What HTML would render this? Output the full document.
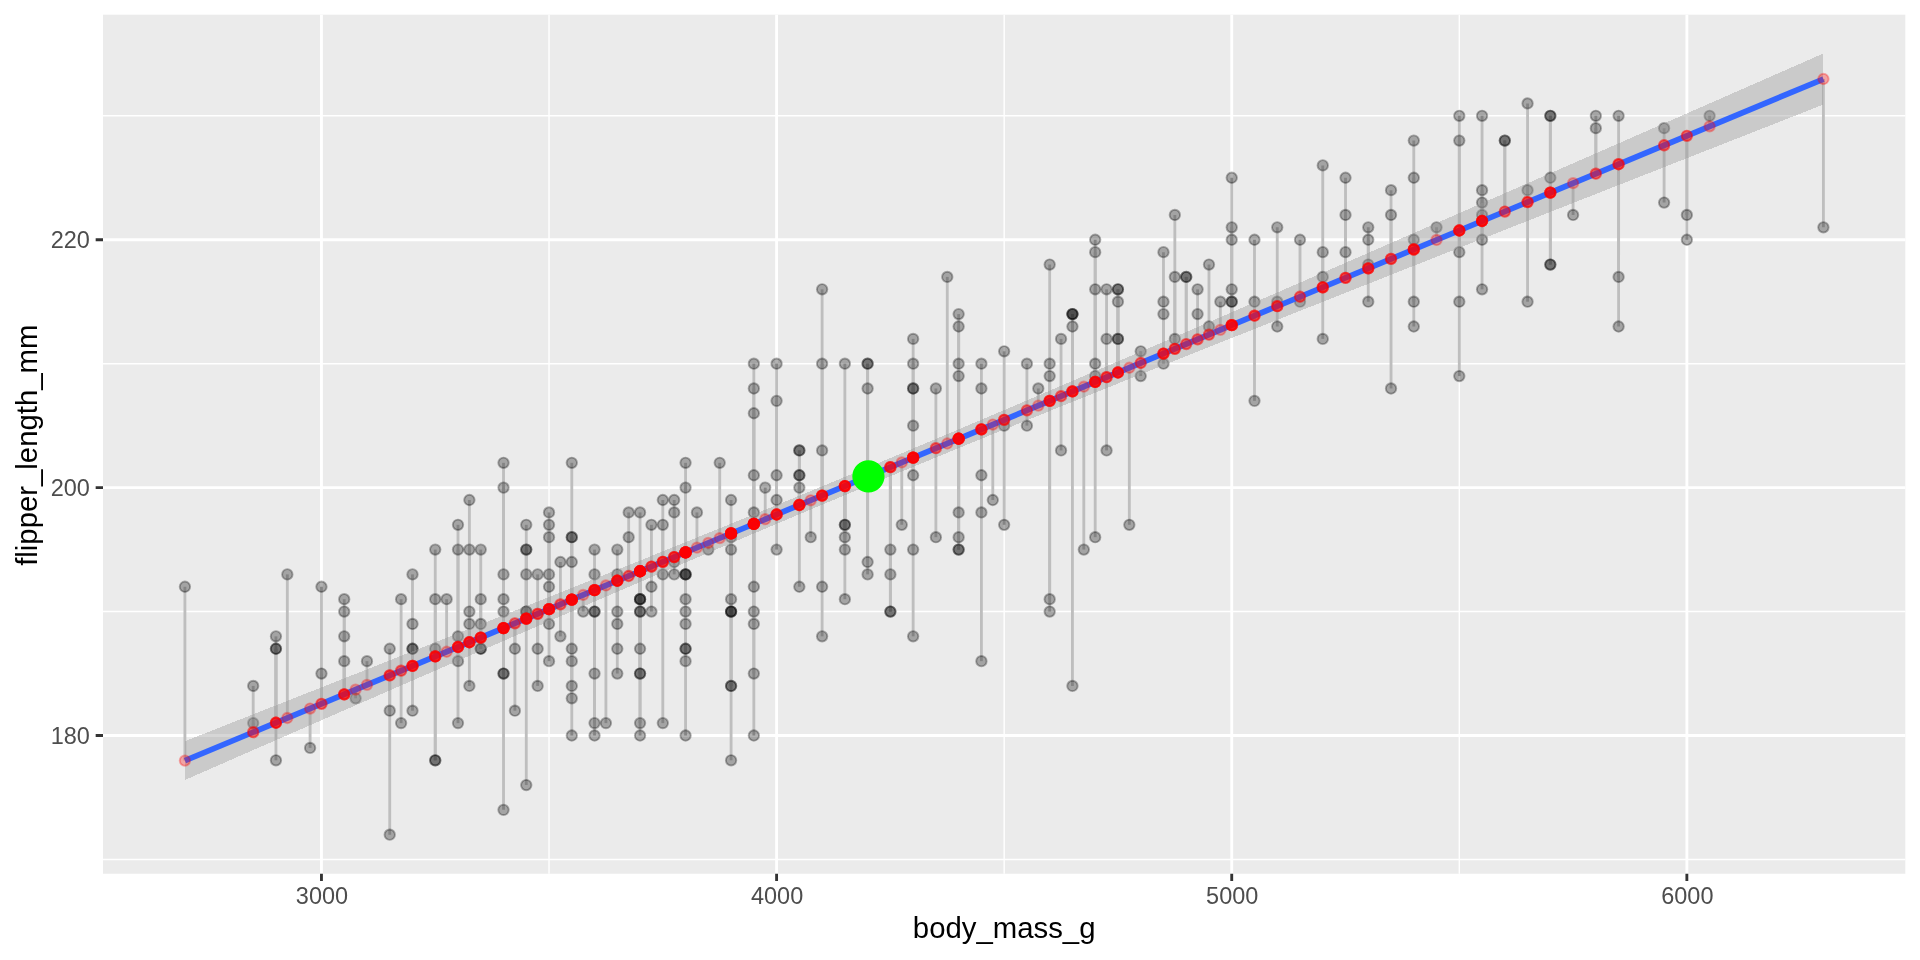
<!DOCTYPE html>
<html><head><meta charset="utf-8"><title>plot</title>
<style>html,body{margin:0;padding:0;background:#fff}svg{display:block;will-change:transform}text{font-family:"Liberation Sans",sans-serif}</style></head>
<body>
<svg width="1920" height="960" viewBox="0 0 1920 960">
<rect width="1920" height="960" fill="#fff"/>
<rect x="103.0" y="14.67" width="1802.33" height="859.08" fill="#EBEBEB"/>
<defs><clipPath id="cp"><rect x="103.0" y="14.67" width="1802.33" height="859.08"/></clipPath></defs>
<path d="M103.0 859.44H1905.33M103.0 611.56H1905.33M103.0 363.68H1905.33M103.0 115.80H1905.33M549.03 14.67V873.75M1004.16 14.67V873.75M1459.30 14.67V873.75" stroke="#fff" stroke-width="1.42" fill="none"/>
<path d="M103.0 735.50H1905.33M103.0 487.62H1905.33M103.0 239.74H1905.33M321.46 14.67V873.75M776.60 14.67V873.75M1231.73 14.67V873.75M1686.87 14.67V873.75" stroke="#fff" stroke-width="2.85" fill="none"/>
<g clip-path="url(#cp)">
<g stroke="#BEBEBE" stroke-width="2.85" fill="none">
<path d="M184.92 586.77V760.60"/><path d="M253.19 685.92V732.20"/><path d="M253.19 723.11V732.20"/><path d="M275.95 636.35V722.74"/><path d="M275.95 648.74V722.74"/><path d="M275.95 648.74V722.74"/><path d="M275.95 760.29V722.74"/><path d="M287.33 574.38V718.00"/><path d="M310.09 747.89V708.54"/><path d="M321.46 586.77V703.80"/><path d="M321.46 673.53V703.80"/><path d="M344.22 599.17V694.34"/><path d="M344.22 611.56V694.34"/><path d="M344.22 636.35V694.34"/><path d="M344.22 661.14V694.34"/><path d="M355.60 698.32V689.61"/><path d="M366.98 661.14V684.87"/><path d="M389.73 648.74V675.41"/><path d="M389.73 710.71V675.41"/><path d="M389.73 834.65V675.41"/><path d="M401.11 599.17V670.67"/><path d="M401.11 723.11V670.67"/><path d="M412.49 574.38V665.94"/><path d="M412.49 623.95V665.94"/><path d="M412.49 648.74V665.94"/><path d="M412.49 648.74V665.94"/><path d="M412.49 710.71V665.94"/><path d="M435.25 549.59V656.47"/><path d="M435.25 599.17V656.47"/><path d="M435.25 648.74V656.47"/><path d="M435.25 760.29V656.47"/><path d="M435.25 760.29V656.47"/><path d="M446.63 599.17V651.74"/><path d="M458.00 524.80V647.01"/><path d="M458.00 549.59V647.01"/><path d="M458.00 636.35V647.01"/><path d="M458.00 661.14V647.01"/><path d="M458.00 723.11V647.01"/><path d="M469.38 500.01V642.27"/><path d="M469.38 549.59V642.27"/><path d="M469.38 611.56V642.27"/><path d="M469.38 623.95V642.27"/><path d="M469.38 685.92V642.27"/><path d="M480.76 549.59V637.54"/><path d="M480.76 599.17V637.54"/><path d="M480.76 623.95V637.54"/><path d="M480.76 648.74V637.54"/><path d="M480.76 648.74V637.54"/><path d="M503.52 462.83V628.07"/><path d="M503.52 487.62V628.07"/><path d="M503.52 574.38V628.07"/><path d="M503.52 599.17V628.07"/><path d="M503.52 611.56V628.07"/><path d="M503.52 673.53V628.07"/><path d="M503.52 673.53V628.07"/><path d="M503.52 809.86V628.07"/><path d="M514.90 648.74V623.34"/><path d="M514.90 710.71V623.34"/><path d="M526.27 524.80V618.61"/><path d="M526.27 549.59V618.61"/><path d="M526.27 549.59V618.61"/><path d="M526.27 574.38V618.61"/><path d="M526.27 611.56V618.61"/><path d="M526.27 611.56V618.61"/><path d="M526.27 785.08V618.61"/><path d="M537.65 574.38V613.87"/><path d="M537.65 648.74V613.87"/><path d="M537.65 685.92V613.87"/><path d="M549.03 512.41V609.14"/><path d="M549.03 524.80V609.14"/><path d="M549.03 537.20V609.14"/><path d="M549.03 574.38V609.14"/><path d="M549.03 586.77V609.14"/><path d="M549.03 623.95V609.14"/><path d="M549.03 661.14V609.14"/><path d="M560.41 561.98V604.41"/><path d="M560.41 636.35V604.41"/><path d="M571.79 462.83V599.67"/><path d="M571.79 537.20V599.67"/><path d="M571.79 537.20V599.67"/><path d="M571.79 561.98V599.67"/><path d="M571.79 648.74V599.67"/><path d="M571.79 661.14V599.67"/><path d="M571.79 685.92V599.67"/><path d="M571.79 698.32V599.67"/><path d="M571.79 735.50V599.67"/><path d="M583.17 611.56V594.94"/><path d="M594.54 549.59V590.21"/><path d="M594.54 574.38V590.21"/><path d="M594.54 611.56V590.21"/><path d="M594.54 611.56V590.21"/><path d="M594.54 673.53V590.21"/><path d="M594.54 723.11V590.21"/><path d="M594.54 735.50V590.21"/><path d="M605.92 723.11V585.47"/><path d="M617.30 549.59V580.74"/><path d="M617.30 574.38V580.74"/><path d="M617.30 611.56V580.74"/><path d="M617.30 623.95V580.74"/><path d="M617.30 648.74V580.74"/><path d="M617.30 673.53V580.74"/><path d="M628.68 512.41V576.01"/><path d="M628.68 537.20V576.01"/><path d="M640.06 512.41V571.27"/><path d="M640.06 599.17V571.27"/><path d="M640.06 599.17V571.27"/><path d="M640.06 599.17V571.27"/><path d="M640.06 611.56V571.27"/><path d="M640.06 611.56V571.27"/><path d="M640.06 648.74V571.27"/><path d="M640.06 673.53V571.27"/><path d="M640.06 673.53V571.27"/><path d="M640.06 723.11V571.27"/><path d="M640.06 735.50V571.27"/><path d="M651.44 524.80V566.54"/><path d="M651.44 586.77V566.54"/><path d="M651.44 611.56V566.54"/><path d="M662.81 500.01V561.81"/><path d="M662.81 524.80V561.81"/><path d="M662.81 574.38V561.81"/><path d="M662.81 723.11V561.81"/><path d="M674.19 500.01V557.07"/><path d="M674.19 512.41V557.07"/><path d="M674.19 561.98V557.07"/><path d="M674.19 574.38V557.07"/><path d="M685.57 462.83V552.34"/><path d="M685.57 487.62V552.34"/><path d="M685.57 574.38V552.34"/><path d="M685.57 574.38V552.34"/><path d="M685.57 574.38V552.34"/><path d="M685.57 599.17V552.34"/><path d="M685.57 611.56V552.34"/><path d="M685.57 623.95V552.34"/><path d="M685.57 648.74V552.34"/><path d="M685.57 648.74V552.34"/><path d="M685.57 661.14V552.34"/><path d="M685.57 735.50V552.34"/><path d="M696.95 512.41V547.61"/><path d="M708.33 549.59V542.87"/><path d="M719.71 462.83V538.14"/><path d="M731.08 500.01V533.41"/><path d="M731.08 537.20V533.41"/><path d="M731.08 549.59V533.41"/><path d="M731.08 599.17V533.41"/><path d="M731.08 611.56V533.41"/><path d="M731.08 611.56V533.41"/><path d="M731.08 611.56V533.41"/><path d="M731.08 685.92V533.41"/><path d="M731.08 685.92V533.41"/><path d="M731.08 760.29V533.41"/><path d="M753.84 363.68V523.94"/><path d="M753.84 388.47V523.94"/><path d="M753.84 413.26V523.94"/><path d="M753.84 475.23V523.94"/><path d="M753.84 512.41V523.94"/><path d="M753.84 586.77V523.94"/><path d="M753.84 611.56V523.94"/><path d="M753.84 623.95V523.94"/><path d="M753.84 673.53V523.94"/><path d="M753.84 735.50V523.94"/><path d="M765.22 487.62V519.21"/><path d="M776.60 363.68V514.48"/><path d="M776.60 400.86V514.48"/><path d="M776.60 475.23V514.48"/><path d="M776.60 500.01V514.48"/><path d="M776.60 549.59V514.48"/><path d="M799.35 450.44V505.01"/><path d="M799.35 450.44V505.01"/><path d="M799.35 475.23V505.01"/><path d="M799.35 475.23V505.01"/><path d="M799.35 487.62V505.01"/><path d="M799.35 586.77V505.01"/><path d="M810.73 537.20V500.28"/><path d="M822.11 289.32V495.54"/><path d="M822.11 363.68V495.54"/><path d="M822.11 450.44V495.54"/><path d="M822.11 586.77V495.54"/><path d="M822.11 636.35V495.54"/><path d="M844.87 363.68V486.08"/><path d="M844.87 524.80V486.08"/><path d="M844.87 524.80V486.08"/><path d="M844.87 537.20V486.08"/><path d="M844.87 549.59V486.08"/><path d="M844.87 599.17V486.08"/><path d="M867.62 363.68V476.61"/><path d="M867.62 363.68V476.61"/><path d="M867.62 388.47V476.61"/><path d="M867.62 561.98V476.61"/><path d="M867.62 574.38V476.61"/><path d="M890.38 549.59V467.14"/><path d="M890.38 574.38V467.14"/><path d="M890.38 611.56V467.14"/><path d="M890.38 611.56V467.14"/><path d="M901.76 524.80V462.41"/><path d="M913.14 338.89V457.68"/><path d="M913.14 363.68V457.68"/><path d="M913.14 388.47V457.68"/><path d="M913.14 388.47V457.68"/><path d="M913.14 425.65V457.68"/><path d="M913.14 475.23V457.68"/><path d="M913.14 549.59V457.68"/><path d="M913.14 636.35V457.68"/><path d="M935.89 388.47V448.21"/><path d="M935.89 537.20V448.21"/><path d="M947.27 276.92V443.48"/><path d="M958.65 314.10V438.74"/><path d="M958.65 326.50V438.74"/><path d="M958.65 363.68V438.74"/><path d="M958.65 376.07V438.74"/><path d="M958.65 512.41V438.74"/><path d="M958.65 537.20V438.74"/><path d="M958.65 549.59V438.74"/><path d="M958.65 549.59V438.74"/><path d="M981.41 363.68V429.28"/><path d="M981.41 388.47V429.28"/><path d="M981.41 475.23V429.28"/><path d="M981.41 512.41V429.28"/><path d="M981.41 661.14V429.28"/><path d="M992.79 500.01V424.54"/><path d="M1004.16 351.29V419.81"/><path d="M1004.16 425.65V419.81"/><path d="M1004.16 524.80V419.81"/><path d="M1026.92 363.68V410.34"/><path d="M1026.92 425.65V410.34"/><path d="M1038.30 388.47V405.61"/><path d="M1049.68 264.53V400.88"/><path d="M1049.68 363.68V400.88"/><path d="M1049.68 376.07V400.88"/><path d="M1049.68 599.17V400.88"/><path d="M1049.68 611.56V400.88"/><path d="M1061.06 338.89V396.14"/><path d="M1061.06 450.44V396.14"/><path d="M1072.44 314.10V391.41"/><path d="M1072.44 314.10V391.41"/><path d="M1072.44 314.10V391.41"/><path d="M1072.44 326.50V391.41"/><path d="M1072.44 685.92V391.41"/><path d="M1083.81 549.59V386.68"/><path d="M1095.19 239.74V381.94"/><path d="M1095.19 252.13V381.94"/><path d="M1095.19 289.32V381.94"/><path d="M1095.19 363.68V381.94"/><path d="M1095.19 376.07V381.94"/><path d="M1095.19 537.20V381.94"/><path d="M1106.57 289.32V377.21"/><path d="M1106.57 338.89V377.21"/><path d="M1106.57 450.44V377.21"/><path d="M1117.95 289.32V372.48"/><path d="M1117.95 289.32V372.48"/><path d="M1117.95 301.71V372.48"/><path d="M1117.95 338.89V372.48"/><path d="M1117.95 338.89V372.48"/><path d="M1129.33 524.80V367.74"/><path d="M1140.71 351.29V363.01"/><path d="M1140.71 376.07V363.01"/><path d="M1163.46 252.13V353.54"/><path d="M1163.46 301.71V353.54"/><path d="M1163.46 314.10V353.54"/><path d="M1163.46 363.68V353.54"/><path d="M1174.84 214.95V348.81"/><path d="M1174.84 276.92V348.81"/><path d="M1174.84 338.89V348.81"/><path d="M1186.22 276.92V344.08"/><path d="M1186.22 276.92V344.08"/><path d="M1197.60 289.32V339.35"/><path d="M1197.60 314.10V339.35"/><path d="M1208.98 264.53V334.61"/><path d="M1208.98 326.50V334.61"/><path d="M1220.35 301.71V329.88"/><path d="M1231.73 177.77V325.15"/><path d="M1231.73 227.35V325.15"/><path d="M1231.73 239.74V325.15"/><path d="M1231.73 289.32V325.15"/><path d="M1231.73 301.71V325.15"/><path d="M1231.73 301.71V325.15"/><path d="M1254.49 239.74V315.68"/><path d="M1254.49 301.71V315.68"/><path d="M1254.49 400.86V315.68"/><path d="M1277.25 227.35V306.21"/><path d="M1277.25 301.71V306.21"/><path d="M1277.25 326.50V306.21"/><path d="M1300.00 239.74V296.75"/><path d="M1300.00 301.71V296.75"/><path d="M1322.76 165.38V287.28"/><path d="M1322.76 252.13V287.28"/><path d="M1322.76 276.92V287.28"/><path d="M1322.76 338.89V287.28"/><path d="M1345.52 177.77V277.81"/><path d="M1345.52 214.95V277.81"/><path d="M1345.52 252.13V277.81"/><path d="M1368.27 227.35V268.35"/><path d="M1368.27 239.74V268.35"/><path d="M1368.27 264.53V268.35"/><path d="M1368.27 301.71V268.35"/><path d="M1391.03 190.16V258.88"/><path d="M1391.03 214.95V258.88"/><path d="M1391.03 388.47V258.88"/><path d="M1413.79 140.59V249.41"/><path d="M1413.79 177.77V249.41"/><path d="M1413.79 239.74V249.41"/><path d="M1413.79 301.71V249.41"/><path d="M1413.79 326.50V249.41"/><path d="M1436.54 227.35V239.95"/><path d="M1459.30 115.80V230.48"/><path d="M1459.30 140.59V230.48"/><path d="M1459.30 252.13V230.48"/><path d="M1459.30 301.71V230.48"/><path d="M1459.30 376.07V230.48"/><path d="M1482.06 115.80V221.01"/><path d="M1482.06 190.16V221.01"/><path d="M1482.06 202.56V221.01"/><path d="M1482.06 214.95V221.01"/><path d="M1482.06 239.74V221.01"/><path d="M1482.06 289.32V221.01"/><path d="M1504.81 140.59V211.55"/><path d="M1504.81 140.59V211.55"/><path d="M1527.57 103.41V202.08"/><path d="M1527.57 190.16V202.08"/><path d="M1527.57 301.71V202.08"/><path d="M1550.33 115.80V192.61"/><path d="M1550.33 115.80V192.61"/><path d="M1550.33 177.77V192.61"/><path d="M1550.33 264.53V192.61"/><path d="M1550.33 264.53V192.61"/><path d="M1573.08 214.95V183.15"/><path d="M1595.84 115.80V173.68"/><path d="M1595.84 128.19V173.68"/><path d="M1618.60 115.80V164.22"/><path d="M1618.60 276.92V164.22"/><path d="M1618.60 326.50V164.22"/><path d="M1664.11 128.19V145.28"/><path d="M1664.11 202.56V145.28"/><path d="M1686.87 214.95V135.82"/><path d="M1686.87 239.74V135.82"/><path d="M1709.62 115.80V126.35"/><path d="M1823.41 227.35V79.02"/>
</g>
<g fill="#000" fill-opacity="0.3" stroke="#000" stroke-opacity="0.3" stroke-width="1.89">
<circle cx="184.92" cy="586.77" r="5.21"/><circle cx="253.19" cy="685.92" r="5.21"/><circle cx="253.19" cy="723.11" r="5.21"/><circle cx="275.95" cy="636.35" r="5.21"/><circle cx="275.95" cy="648.74" r="5.21"/><circle cx="275.95" cy="648.74" r="5.21"/><circle cx="275.95" cy="760.29" r="5.21"/><circle cx="287.33" cy="574.38" r="5.21"/><circle cx="310.09" cy="747.89" r="5.21"/><circle cx="321.46" cy="586.77" r="5.21"/><circle cx="321.46" cy="673.53" r="5.21"/><circle cx="344.22" cy="599.17" r="5.21"/><circle cx="344.22" cy="611.56" r="5.21"/><circle cx="344.22" cy="636.35" r="5.21"/><circle cx="344.22" cy="661.14" r="5.21"/><circle cx="355.60" cy="698.32" r="5.21"/><circle cx="366.98" cy="661.14" r="5.21"/><circle cx="389.73" cy="648.74" r="5.21"/><circle cx="389.73" cy="710.71" r="5.21"/><circle cx="389.73" cy="834.65" r="5.21"/><circle cx="401.11" cy="599.17" r="5.21"/><circle cx="401.11" cy="723.11" r="5.21"/><circle cx="412.49" cy="574.38" r="5.21"/><circle cx="412.49" cy="623.95" r="5.21"/><circle cx="412.49" cy="648.74" r="5.21"/><circle cx="412.49" cy="648.74" r="5.21"/><circle cx="412.49" cy="710.71" r="5.21"/><circle cx="435.25" cy="549.59" r="5.21"/><circle cx="435.25" cy="599.17" r="5.21"/><circle cx="435.25" cy="648.74" r="5.21"/><circle cx="435.25" cy="760.29" r="5.21"/><circle cx="435.25" cy="760.29" r="5.21"/><circle cx="446.63" cy="599.17" r="5.21"/><circle cx="458.00" cy="524.80" r="5.21"/><circle cx="458.00" cy="549.59" r="5.21"/><circle cx="458.00" cy="636.35" r="5.21"/><circle cx="458.00" cy="661.14" r="5.21"/><circle cx="458.00" cy="723.11" r="5.21"/><circle cx="469.38" cy="500.01" r="5.21"/><circle cx="469.38" cy="549.59" r="5.21"/><circle cx="469.38" cy="611.56" r="5.21"/><circle cx="469.38" cy="623.95" r="5.21"/><circle cx="469.38" cy="685.92" r="5.21"/><circle cx="480.76" cy="549.59" r="5.21"/><circle cx="480.76" cy="599.17" r="5.21"/><circle cx="480.76" cy="623.95" r="5.21"/><circle cx="480.76" cy="648.74" r="5.21"/><circle cx="480.76" cy="648.74" r="5.21"/><circle cx="503.52" cy="462.83" r="5.21"/><circle cx="503.52" cy="487.62" r="5.21"/><circle cx="503.52" cy="574.38" r="5.21"/><circle cx="503.52" cy="599.17" r="5.21"/><circle cx="503.52" cy="611.56" r="5.21"/><circle cx="503.52" cy="673.53" r="5.21"/><circle cx="503.52" cy="673.53" r="5.21"/><circle cx="503.52" cy="809.86" r="5.21"/><circle cx="514.90" cy="648.74" r="5.21"/><circle cx="514.90" cy="710.71" r="5.21"/><circle cx="526.27" cy="524.80" r="5.21"/><circle cx="526.27" cy="549.59" r="5.21"/><circle cx="526.27" cy="549.59" r="5.21"/><circle cx="526.27" cy="574.38" r="5.21"/><circle cx="526.27" cy="611.56" r="5.21"/><circle cx="526.27" cy="611.56" r="5.21"/><circle cx="526.27" cy="785.08" r="5.21"/><circle cx="537.65" cy="574.38" r="5.21"/><circle cx="537.65" cy="648.74" r="5.21"/><circle cx="537.65" cy="685.92" r="5.21"/><circle cx="549.03" cy="512.41" r="5.21"/><circle cx="549.03" cy="524.80" r="5.21"/><circle cx="549.03" cy="537.20" r="5.21"/><circle cx="549.03" cy="574.38" r="5.21"/><circle cx="549.03" cy="586.77" r="5.21"/><circle cx="549.03" cy="623.95" r="5.21"/><circle cx="549.03" cy="661.14" r="5.21"/><circle cx="560.41" cy="561.98" r="5.21"/><circle cx="560.41" cy="636.35" r="5.21"/><circle cx="571.79" cy="462.83" r="5.21"/><circle cx="571.79" cy="537.20" r="5.21"/><circle cx="571.79" cy="537.20" r="5.21"/><circle cx="571.79" cy="561.98" r="5.21"/><circle cx="571.79" cy="648.74" r="5.21"/><circle cx="571.79" cy="661.14" r="5.21"/><circle cx="571.79" cy="685.92" r="5.21"/><circle cx="571.79" cy="698.32" r="5.21"/><circle cx="571.79" cy="735.50" r="5.21"/><circle cx="583.17" cy="611.56" r="5.21"/><circle cx="594.54" cy="549.59" r="5.21"/><circle cx="594.54" cy="574.38" r="5.21"/><circle cx="594.54" cy="611.56" r="5.21"/><circle cx="594.54" cy="611.56" r="5.21"/><circle cx="594.54" cy="673.53" r="5.21"/><circle cx="594.54" cy="723.11" r="5.21"/><circle cx="594.54" cy="735.50" r="5.21"/><circle cx="605.92" cy="723.11" r="5.21"/><circle cx="617.30" cy="549.59" r="5.21"/><circle cx="617.30" cy="574.38" r="5.21"/><circle cx="617.30" cy="611.56" r="5.21"/><circle cx="617.30" cy="623.95" r="5.21"/><circle cx="617.30" cy="648.74" r="5.21"/><circle cx="617.30" cy="673.53" r="5.21"/><circle cx="628.68" cy="512.41" r="5.21"/><circle cx="628.68" cy="537.20" r="5.21"/><circle cx="640.06" cy="512.41" r="5.21"/><circle cx="640.06" cy="599.17" r="5.21"/><circle cx="640.06" cy="599.17" r="5.21"/><circle cx="640.06" cy="599.17" r="5.21"/><circle cx="640.06" cy="611.56" r="5.21"/><circle cx="640.06" cy="611.56" r="5.21"/><circle cx="640.06" cy="648.74" r="5.21"/><circle cx="640.06" cy="673.53" r="5.21"/><circle cx="640.06" cy="673.53" r="5.21"/><circle cx="640.06" cy="723.11" r="5.21"/><circle cx="640.06" cy="735.50" r="5.21"/><circle cx="651.44" cy="524.80" r="5.21"/><circle cx="651.44" cy="586.77" r="5.21"/><circle cx="651.44" cy="611.56" r="5.21"/><circle cx="662.81" cy="500.01" r="5.21"/><circle cx="662.81" cy="524.80" r="5.21"/><circle cx="662.81" cy="574.38" r="5.21"/><circle cx="662.81" cy="723.11" r="5.21"/><circle cx="674.19" cy="500.01" r="5.21"/><circle cx="674.19" cy="512.41" r="5.21"/><circle cx="674.19" cy="561.98" r="5.21"/><circle cx="674.19" cy="574.38" r="5.21"/><circle cx="685.57" cy="462.83" r="5.21"/><circle cx="685.57" cy="487.62" r="5.21"/><circle cx="685.57" cy="574.38" r="5.21"/><circle cx="685.57" cy="574.38" r="5.21"/><circle cx="685.57" cy="574.38" r="5.21"/><circle cx="685.57" cy="599.17" r="5.21"/><circle cx="685.57" cy="611.56" r="5.21"/><circle cx="685.57" cy="623.95" r="5.21"/><circle cx="685.57" cy="648.74" r="5.21"/><circle cx="685.57" cy="648.74" r="5.21"/><circle cx="685.57" cy="661.14" r="5.21"/><circle cx="685.57" cy="735.50" r="5.21"/><circle cx="696.95" cy="512.41" r="5.21"/><circle cx="708.33" cy="549.59" r="5.21"/><circle cx="719.71" cy="462.83" r="5.21"/><circle cx="731.08" cy="500.01" r="5.21"/><circle cx="731.08" cy="537.20" r="5.21"/><circle cx="731.08" cy="549.59" r="5.21"/><circle cx="731.08" cy="599.17" r="5.21"/><circle cx="731.08" cy="611.56" r="5.21"/><circle cx="731.08" cy="611.56" r="5.21"/><circle cx="731.08" cy="611.56" r="5.21"/><circle cx="731.08" cy="685.92" r="5.21"/><circle cx="731.08" cy="685.92" r="5.21"/><circle cx="731.08" cy="760.29" r="5.21"/><circle cx="753.84" cy="363.68" r="5.21"/><circle cx="753.84" cy="388.47" r="5.21"/><circle cx="753.84" cy="413.26" r="5.21"/><circle cx="753.84" cy="475.23" r="5.21"/><circle cx="753.84" cy="512.41" r="5.21"/><circle cx="753.84" cy="586.77" r="5.21"/><circle cx="753.84" cy="611.56" r="5.21"/><circle cx="753.84" cy="623.95" r="5.21"/><circle cx="753.84" cy="673.53" r="5.21"/><circle cx="753.84" cy="735.50" r="5.21"/><circle cx="765.22" cy="487.62" r="5.21"/><circle cx="776.60" cy="363.68" r="5.21"/><circle cx="776.60" cy="400.86" r="5.21"/><circle cx="776.60" cy="475.23" r="5.21"/><circle cx="776.60" cy="500.01" r="5.21"/><circle cx="776.60" cy="549.59" r="5.21"/><circle cx="799.35" cy="450.44" r="5.21"/><circle cx="799.35" cy="450.44" r="5.21"/><circle cx="799.35" cy="475.23" r="5.21"/><circle cx="799.35" cy="475.23" r="5.21"/><circle cx="799.35" cy="487.62" r="5.21"/><circle cx="799.35" cy="586.77" r="5.21"/><circle cx="810.73" cy="537.20" r="5.21"/><circle cx="822.11" cy="289.32" r="5.21"/><circle cx="822.11" cy="363.68" r="5.21"/><circle cx="822.11" cy="450.44" r="5.21"/><circle cx="822.11" cy="586.77" r="5.21"/><circle cx="822.11" cy="636.35" r="5.21"/><circle cx="844.87" cy="363.68" r="5.21"/><circle cx="844.87" cy="524.80" r="5.21"/><circle cx="844.87" cy="524.80" r="5.21"/><circle cx="844.87" cy="537.20" r="5.21"/><circle cx="844.87" cy="549.59" r="5.21"/><circle cx="844.87" cy="599.17" r="5.21"/><circle cx="867.62" cy="363.68" r="5.21"/><circle cx="867.62" cy="363.68" r="5.21"/><circle cx="867.62" cy="388.47" r="5.21"/><circle cx="867.62" cy="561.98" r="5.21"/><circle cx="867.62" cy="574.38" r="5.21"/><circle cx="890.38" cy="549.59" r="5.21"/><circle cx="890.38" cy="574.38" r="5.21"/><circle cx="890.38" cy="611.56" r="5.21"/><circle cx="890.38" cy="611.56" r="5.21"/><circle cx="901.76" cy="524.80" r="5.21"/><circle cx="913.14" cy="338.89" r="5.21"/><circle cx="913.14" cy="363.68" r="5.21"/><circle cx="913.14" cy="388.47" r="5.21"/><circle cx="913.14" cy="388.47" r="5.21"/><circle cx="913.14" cy="425.65" r="5.21"/><circle cx="913.14" cy="475.23" r="5.21"/><circle cx="913.14" cy="549.59" r="5.21"/><circle cx="913.14" cy="636.35" r="5.21"/><circle cx="935.89" cy="388.47" r="5.21"/><circle cx="935.89" cy="537.20" r="5.21"/><circle cx="947.27" cy="276.92" r="5.21"/><circle cx="958.65" cy="314.10" r="5.21"/><circle cx="958.65" cy="326.50" r="5.21"/><circle cx="958.65" cy="363.68" r="5.21"/><circle cx="958.65" cy="376.07" r="5.21"/><circle cx="958.65" cy="512.41" r="5.21"/><circle cx="958.65" cy="537.20" r="5.21"/><circle cx="958.65" cy="549.59" r="5.21"/><circle cx="958.65" cy="549.59" r="5.21"/><circle cx="981.41" cy="363.68" r="5.21"/><circle cx="981.41" cy="388.47" r="5.21"/><circle cx="981.41" cy="475.23" r="5.21"/><circle cx="981.41" cy="512.41" r="5.21"/><circle cx="981.41" cy="661.14" r="5.21"/><circle cx="992.79" cy="500.01" r="5.21"/><circle cx="1004.16" cy="351.29" r="5.21"/><circle cx="1004.16" cy="425.65" r="5.21"/><circle cx="1004.16" cy="524.80" r="5.21"/><circle cx="1026.92" cy="363.68" r="5.21"/><circle cx="1026.92" cy="425.65" r="5.21"/><circle cx="1038.30" cy="388.47" r="5.21"/><circle cx="1049.68" cy="264.53" r="5.21"/><circle cx="1049.68" cy="363.68" r="5.21"/><circle cx="1049.68" cy="376.07" r="5.21"/><circle cx="1049.68" cy="599.17" r="5.21"/><circle cx="1049.68" cy="611.56" r="5.21"/><circle cx="1061.06" cy="338.89" r="5.21"/><circle cx="1061.06" cy="450.44" r="5.21"/><circle cx="1072.44" cy="314.10" r="5.21"/><circle cx="1072.44" cy="314.10" r="5.21"/><circle cx="1072.44" cy="314.10" r="5.21"/><circle cx="1072.44" cy="326.50" r="5.21"/><circle cx="1072.44" cy="685.92" r="5.21"/><circle cx="1083.81" cy="549.59" r="5.21"/><circle cx="1095.19" cy="239.74" r="5.21"/><circle cx="1095.19" cy="252.13" r="5.21"/><circle cx="1095.19" cy="289.32" r="5.21"/><circle cx="1095.19" cy="363.68" r="5.21"/><circle cx="1095.19" cy="376.07" r="5.21"/><circle cx="1095.19" cy="537.20" r="5.21"/><circle cx="1106.57" cy="289.32" r="5.21"/><circle cx="1106.57" cy="338.89" r="5.21"/><circle cx="1106.57" cy="450.44" r="5.21"/><circle cx="1117.95" cy="289.32" r="5.21"/><circle cx="1117.95" cy="289.32" r="5.21"/><circle cx="1117.95" cy="301.71" r="5.21"/><circle cx="1117.95" cy="338.89" r="5.21"/><circle cx="1117.95" cy="338.89" r="5.21"/><circle cx="1129.33" cy="524.80" r="5.21"/><circle cx="1140.71" cy="351.29" r="5.21"/><circle cx="1140.71" cy="376.07" r="5.21"/><circle cx="1163.46" cy="252.13" r="5.21"/><circle cx="1163.46" cy="301.71" r="5.21"/><circle cx="1163.46" cy="314.10" r="5.21"/><circle cx="1163.46" cy="363.68" r="5.21"/><circle cx="1174.84" cy="214.95" r="5.21"/><circle cx="1174.84" cy="276.92" r="5.21"/><circle cx="1174.84" cy="338.89" r="5.21"/><circle cx="1186.22" cy="276.92" r="5.21"/><circle cx="1186.22" cy="276.92" r="5.21"/><circle cx="1197.60" cy="289.32" r="5.21"/><circle cx="1197.60" cy="314.10" r="5.21"/><circle cx="1208.98" cy="264.53" r="5.21"/><circle cx="1208.98" cy="326.50" r="5.21"/><circle cx="1220.35" cy="301.71" r="5.21"/><circle cx="1231.73" cy="177.77" r="5.21"/><circle cx="1231.73" cy="227.35" r="5.21"/><circle cx="1231.73" cy="239.74" r="5.21"/><circle cx="1231.73" cy="289.32" r="5.21"/><circle cx="1231.73" cy="301.71" r="5.21"/><circle cx="1231.73" cy="301.71" r="5.21"/><circle cx="1254.49" cy="239.74" r="5.21"/><circle cx="1254.49" cy="301.71" r="5.21"/><circle cx="1254.49" cy="400.86" r="5.21"/><circle cx="1277.25" cy="227.35" r="5.21"/><circle cx="1277.25" cy="301.71" r="5.21"/><circle cx="1277.25" cy="326.50" r="5.21"/><circle cx="1300.00" cy="239.74" r="5.21"/><circle cx="1300.00" cy="301.71" r="5.21"/><circle cx="1322.76" cy="165.38" r="5.21"/><circle cx="1322.76" cy="252.13" r="5.21"/><circle cx="1322.76" cy="276.92" r="5.21"/><circle cx="1322.76" cy="338.89" r="5.21"/><circle cx="1345.52" cy="177.77" r="5.21"/><circle cx="1345.52" cy="214.95" r="5.21"/><circle cx="1345.52" cy="252.13" r="5.21"/><circle cx="1368.27" cy="227.35" r="5.21"/><circle cx="1368.27" cy="239.74" r="5.21"/><circle cx="1368.27" cy="264.53" r="5.21"/><circle cx="1368.27" cy="301.71" r="5.21"/><circle cx="1391.03" cy="190.16" r="5.21"/><circle cx="1391.03" cy="214.95" r="5.21"/><circle cx="1391.03" cy="388.47" r="5.21"/><circle cx="1413.79" cy="140.59" r="5.21"/><circle cx="1413.79" cy="177.77" r="5.21"/><circle cx="1413.79" cy="239.74" r="5.21"/><circle cx="1413.79" cy="301.71" r="5.21"/><circle cx="1413.79" cy="326.50" r="5.21"/><circle cx="1436.54" cy="227.35" r="5.21"/><circle cx="1459.30" cy="115.80" r="5.21"/><circle cx="1459.30" cy="140.59" r="5.21"/><circle cx="1459.30" cy="252.13" r="5.21"/><circle cx="1459.30" cy="301.71" r="5.21"/><circle cx="1459.30" cy="376.07" r="5.21"/><circle cx="1482.06" cy="115.80" r="5.21"/><circle cx="1482.06" cy="190.16" r="5.21"/><circle cx="1482.06" cy="202.56" r="5.21"/><circle cx="1482.06" cy="214.95" r="5.21"/><circle cx="1482.06" cy="239.74" r="5.21"/><circle cx="1482.06" cy="289.32" r="5.21"/><circle cx="1504.81" cy="140.59" r="5.21"/><circle cx="1504.81" cy="140.59" r="5.21"/><circle cx="1527.57" cy="103.41" r="5.21"/><circle cx="1527.57" cy="190.16" r="5.21"/><circle cx="1527.57" cy="301.71" r="5.21"/><circle cx="1550.33" cy="115.80" r="5.21"/><circle cx="1550.33" cy="115.80" r="5.21"/><circle cx="1550.33" cy="177.77" r="5.21"/><circle cx="1550.33" cy="264.53" r="5.21"/><circle cx="1550.33" cy="264.53" r="5.21"/><circle cx="1573.08" cy="214.95" r="5.21"/><circle cx="1595.84" cy="115.80" r="5.21"/><circle cx="1595.84" cy="128.19" r="5.21"/><circle cx="1618.60" cy="115.80" r="5.21"/><circle cx="1618.60" cy="276.92" r="5.21"/><circle cx="1618.60" cy="326.50" r="5.21"/><circle cx="1664.11" cy="128.19" r="5.21"/><circle cx="1664.11" cy="202.56" r="5.21"/><circle cx="1686.87" cy="214.95" r="5.21"/><circle cx="1686.87" cy="239.74" r="5.21"/><circle cx="1709.62" cy="115.80" r="5.21"/><circle cx="1823.41" cy="227.35" r="5.21"/>
</g>
<polygon points="184.92,741.24 205.66,733.06 226.40,724.89 247.14,716.71 267.89,708.53 288.63,700.34 309.37,692.15 330.11,683.96 350.85,675.75 371.59,667.55 392.33,659.34 413.07,651.12 433.81,642.89 454.55,634.65 475.29,626.41 496.03,618.16 516.77,609.90 537.51,601.62 558.25,593.34 578.99,585.04 599.73,576.73 620.47,568.40 641.21,560.06 661.95,551.69 682.69,543.31 703.43,534.91 724.17,526.48 744.91,518.03 765.65,509.56 786.39,501.06 807.13,492.53 827.87,483.98 848.61,475.39 869.35,466.78 890.09,458.13 910.83,449.46 931.57,440.76 952.31,432.03 973.05,423.27 993.79,414.49 1014.54,405.68 1035.28,396.85 1056.02,387.99 1076.76,379.12 1097.50,370.22 1118.24,361.31 1138.98,352.38 1159.72,343.44 1180.46,334.48 1201.20,325.51 1221.94,316.52 1242.68,307.53 1263.42,298.53 1284.16,289.51 1304.90,280.49 1325.64,271.46 1346.38,262.42 1367.12,253.38 1387.86,244.33 1408.60,235.28 1429.34,226.22 1450.08,217.15 1470.82,208.08 1491.56,199.01 1512.30,189.93 1533.04,180.85 1553.78,171.77 1574.52,162.68 1595.26,153.59 1616.00,144.50 1636.74,135.40 1657.48,126.31 1678.22,117.21 1698.96,108.10 1719.70,99.00 1740.44,89.90 1761.19,80.79 1781.93,71.68 1802.67,62.57 1823.41,53.46 1823.41,104.57 1802.67,112.72 1781.93,120.86 1761.19,129.01 1740.44,137.16 1719.70,145.31 1698.96,153.46 1678.22,161.61 1657.48,169.77 1636.74,177.93 1616.00,186.09 1595.26,194.25 1574.52,202.42 1553.78,210.59 1533.04,218.76 1512.30,226.93 1491.56,235.11 1470.82,243.29 1450.08,251.48 1429.34,259.67 1408.60,267.86 1387.86,276.06 1367.12,284.27 1346.38,292.48 1325.64,300.70 1304.90,308.93 1284.16,317.16 1263.42,325.40 1242.68,333.65 1221.94,341.92 1201.20,350.19 1180.46,358.47 1159.72,366.77 1138.98,375.08 1118.24,383.41 1097.50,391.75 1076.76,400.11 1056.02,408.49 1035.28,416.89 1014.54,425.31 993.79,433.76 973.05,442.23 952.31,450.73 931.57,459.26 910.83,467.81 890.09,476.39 869.35,485.00 848.61,493.64 827.87,502.31 807.13,511.01 786.39,519.74 765.65,528.50 744.91,537.28 724.17,546.08 703.43,554.91 682.69,563.77 661.95,572.64 641.21,581.53 620.47,590.44 599.73,599.37 578.99,608.31 558.25,617.27 537.51,626.24 516.77,635.22 496.03,644.22 475.29,653.22 454.55,662.23 433.81,671.25 413.07,680.28 392.33,689.32 371.59,698.36 350.85,707.41 330.11,716.46 309.37,725.52 288.63,734.59 267.89,743.66 247.14,752.73 226.40,761.81 205.66,770.89 184.92,779.97" fill="#999999" fill-opacity="0.4" shape-rendering="crispEdges"/>
<line x1="184.92" y1="760.60" x2="1823.41" y2="79.02" stroke="#3366FF" stroke-width="5.69"/>
<g fill="#f00" fill-opacity="0.3" stroke="#f00" stroke-opacity="0.3" stroke-width="1.89">
<circle cx="184.92" cy="760.60" r="5.21"/><circle cx="253.19" cy="732.20" r="5.21"/><circle cx="253.19" cy="732.20" r="5.21"/><circle cx="275.95" cy="722.74" r="5.21"/><circle cx="275.95" cy="722.74" r="5.21"/><circle cx="275.95" cy="722.74" r="5.21"/><circle cx="275.95" cy="722.74" r="5.21"/><circle cx="287.33" cy="718.00" r="5.21"/><circle cx="310.09" cy="708.54" r="5.21"/><circle cx="321.46" cy="703.80" r="5.21"/><circle cx="321.46" cy="703.80" r="5.21"/><circle cx="344.22" cy="694.34" r="5.21"/><circle cx="344.22" cy="694.34" r="5.21"/><circle cx="344.22" cy="694.34" r="5.21"/><circle cx="344.22" cy="694.34" r="5.21"/><circle cx="355.60" cy="689.61" r="5.21"/><circle cx="366.98" cy="684.87" r="5.21"/><circle cx="389.73" cy="675.41" r="5.21"/><circle cx="389.73" cy="675.41" r="5.21"/><circle cx="389.73" cy="675.41" r="5.21"/><circle cx="401.11" cy="670.67" r="5.21"/><circle cx="401.11" cy="670.67" r="5.21"/><circle cx="412.49" cy="665.94" r="5.21"/><circle cx="412.49" cy="665.94" r="5.21"/><circle cx="412.49" cy="665.94" r="5.21"/><circle cx="412.49" cy="665.94" r="5.21"/><circle cx="412.49" cy="665.94" r="5.21"/><circle cx="435.25" cy="656.47" r="5.21"/><circle cx="435.25" cy="656.47" r="5.21"/><circle cx="435.25" cy="656.47" r="5.21"/><circle cx="435.25" cy="656.47" r="5.21"/><circle cx="435.25" cy="656.47" r="5.21"/><circle cx="446.63" cy="651.74" r="5.21"/><circle cx="458.00" cy="647.01" r="5.21"/><circle cx="458.00" cy="647.01" r="5.21"/><circle cx="458.00" cy="647.01" r="5.21"/><circle cx="458.00" cy="647.01" r="5.21"/><circle cx="458.00" cy="647.01" r="5.21"/><circle cx="469.38" cy="642.27" r="5.21"/><circle cx="469.38" cy="642.27" r="5.21"/><circle cx="469.38" cy="642.27" r="5.21"/><circle cx="469.38" cy="642.27" r="5.21"/><circle cx="469.38" cy="642.27" r="5.21"/><circle cx="480.76" cy="637.54" r="5.21"/><circle cx="480.76" cy="637.54" r="5.21"/><circle cx="480.76" cy="637.54" r="5.21"/><circle cx="480.76" cy="637.54" r="5.21"/><circle cx="480.76" cy="637.54" r="5.21"/><circle cx="503.52" cy="628.07" r="5.21"/><circle cx="503.52" cy="628.07" r="5.21"/><circle cx="503.52" cy="628.07" r="5.21"/><circle cx="503.52" cy="628.07" r="5.21"/><circle cx="503.52" cy="628.07" r="5.21"/><circle cx="503.52" cy="628.07" r="5.21"/><circle cx="503.52" cy="628.07" r="5.21"/><circle cx="503.52" cy="628.07" r="5.21"/><circle cx="514.90" cy="623.34" r="5.21"/><circle cx="514.90" cy="623.34" r="5.21"/><circle cx="526.27" cy="618.61" r="5.21"/><circle cx="526.27" cy="618.61" r="5.21"/><circle cx="526.27" cy="618.61" r="5.21"/><circle cx="526.27" cy="618.61" r="5.21"/><circle cx="526.27" cy="618.61" r="5.21"/><circle cx="526.27" cy="618.61" r="5.21"/><circle cx="526.27" cy="618.61" r="5.21"/><circle cx="537.65" cy="613.87" r="5.21"/><circle cx="537.65" cy="613.87" r="5.21"/><circle cx="537.65" cy="613.87" r="5.21"/><circle cx="549.03" cy="609.14" r="5.21"/><circle cx="549.03" cy="609.14" r="5.21"/><circle cx="549.03" cy="609.14" r="5.21"/><circle cx="549.03" cy="609.14" r="5.21"/><circle cx="549.03" cy="609.14" r="5.21"/><circle cx="549.03" cy="609.14" r="5.21"/><circle cx="549.03" cy="609.14" r="5.21"/><circle cx="560.41" cy="604.41" r="5.21"/><circle cx="560.41" cy="604.41" r="5.21"/><circle cx="571.79" cy="599.67" r="5.21"/><circle cx="571.79" cy="599.67" r="5.21"/><circle cx="571.79" cy="599.67" r="5.21"/><circle cx="571.79" cy="599.67" r="5.21"/><circle cx="571.79" cy="599.67" r="5.21"/><circle cx="571.79" cy="599.67" r="5.21"/><circle cx="571.79" cy="599.67" r="5.21"/><circle cx="571.79" cy="599.67" r="5.21"/><circle cx="571.79" cy="599.67" r="5.21"/><circle cx="583.17" cy="594.94" r="5.21"/><circle cx="594.54" cy="590.21" r="5.21"/><circle cx="594.54" cy="590.21" r="5.21"/><circle cx="594.54" cy="590.21" r="5.21"/><circle cx="594.54" cy="590.21" r="5.21"/><circle cx="594.54" cy="590.21" r="5.21"/><circle cx="594.54" cy="590.21" r="5.21"/><circle cx="594.54" cy="590.21" r="5.21"/><circle cx="605.92" cy="585.47" r="5.21"/><circle cx="617.30" cy="580.74" r="5.21"/><circle cx="617.30" cy="580.74" r="5.21"/><circle cx="617.30" cy="580.74" r="5.21"/><circle cx="617.30" cy="580.74" r="5.21"/><circle cx="617.30" cy="580.74" r="5.21"/><circle cx="617.30" cy="580.74" r="5.21"/><circle cx="628.68" cy="576.01" r="5.21"/><circle cx="628.68" cy="576.01" r="5.21"/><circle cx="640.06" cy="571.27" r="5.21"/><circle cx="640.06" cy="571.27" r="5.21"/><circle cx="640.06" cy="571.27" r="5.21"/><circle cx="640.06" cy="571.27" r="5.21"/><circle cx="640.06" cy="571.27" r="5.21"/><circle cx="640.06" cy="571.27" r="5.21"/><circle cx="640.06" cy="571.27" r="5.21"/><circle cx="640.06" cy="571.27" r="5.21"/><circle cx="640.06" cy="571.27" r="5.21"/><circle cx="640.06" cy="571.27" r="5.21"/><circle cx="640.06" cy="571.27" r="5.21"/><circle cx="651.44" cy="566.54" r="5.21"/><circle cx="651.44" cy="566.54" r="5.21"/><circle cx="651.44" cy="566.54" r="5.21"/><circle cx="662.81" cy="561.81" r="5.21"/><circle cx="662.81" cy="561.81" r="5.21"/><circle cx="662.81" cy="561.81" r="5.21"/><circle cx="662.81" cy="561.81" r="5.21"/><circle cx="674.19" cy="557.07" r="5.21"/><circle cx="674.19" cy="557.07" r="5.21"/><circle cx="674.19" cy="557.07" r="5.21"/><circle cx="674.19" cy="557.07" r="5.21"/><circle cx="685.57" cy="552.34" r="5.21"/><circle cx="685.57" cy="552.34" r="5.21"/><circle cx="685.57" cy="552.34" r="5.21"/><circle cx="685.57" cy="552.34" r="5.21"/><circle cx="685.57" cy="552.34" r="5.21"/><circle cx="685.57" cy="552.34" r="5.21"/><circle cx="685.57" cy="552.34" r="5.21"/><circle cx="685.57" cy="552.34" r="5.21"/><circle cx="685.57" cy="552.34" r="5.21"/><circle cx="685.57" cy="552.34" r="5.21"/><circle cx="685.57" cy="552.34" r="5.21"/><circle cx="685.57" cy="552.34" r="5.21"/><circle cx="696.95" cy="547.61" r="5.21"/><circle cx="708.33" cy="542.87" r="5.21"/><circle cx="719.71" cy="538.14" r="5.21"/><circle cx="731.08" cy="533.41" r="5.21"/><circle cx="731.08" cy="533.41" r="5.21"/><circle cx="731.08" cy="533.41" r="5.21"/><circle cx="731.08" cy="533.41" r="5.21"/><circle cx="731.08" cy="533.41" r="5.21"/><circle cx="731.08" cy="533.41" r="5.21"/><circle cx="731.08" cy="533.41" r="5.21"/><circle cx="731.08" cy="533.41" r="5.21"/><circle cx="731.08" cy="533.41" r="5.21"/><circle cx="731.08" cy="533.41" r="5.21"/><circle cx="753.84" cy="523.94" r="5.21"/><circle cx="753.84" cy="523.94" r="5.21"/><circle cx="753.84" cy="523.94" r="5.21"/><circle cx="753.84" cy="523.94" r="5.21"/><circle cx="753.84" cy="523.94" r="5.21"/><circle cx="753.84" cy="523.94" r="5.21"/><circle cx="753.84" cy="523.94" r="5.21"/><circle cx="753.84" cy="523.94" r="5.21"/><circle cx="753.84" cy="523.94" r="5.21"/><circle cx="753.84" cy="523.94" r="5.21"/><circle cx="765.22" cy="519.21" r="5.21"/><circle cx="776.60" cy="514.48" r="5.21"/><circle cx="776.60" cy="514.48" r="5.21"/><circle cx="776.60" cy="514.48" r="5.21"/><circle cx="776.60" cy="514.48" r="5.21"/><circle cx="776.60" cy="514.48" r="5.21"/><circle cx="799.35" cy="505.01" r="5.21"/><circle cx="799.35" cy="505.01" r="5.21"/><circle cx="799.35" cy="505.01" r="5.21"/><circle cx="799.35" cy="505.01" r="5.21"/><circle cx="799.35" cy="505.01" r="5.21"/><circle cx="799.35" cy="505.01" r="5.21"/><circle cx="810.73" cy="500.28" r="5.21"/><circle cx="822.11" cy="495.54" r="5.21"/><circle cx="822.11" cy="495.54" r="5.21"/><circle cx="822.11" cy="495.54" r="5.21"/><circle cx="822.11" cy="495.54" r="5.21"/><circle cx="822.11" cy="495.54" r="5.21"/><circle cx="844.87" cy="486.08" r="5.21"/><circle cx="844.87" cy="486.08" r="5.21"/><circle cx="844.87" cy="486.08" r="5.21"/><circle cx="844.87" cy="486.08" r="5.21"/><circle cx="844.87" cy="486.08" r="5.21"/><circle cx="844.87" cy="486.08" r="5.21"/><circle cx="867.62" cy="476.61" r="5.21"/><circle cx="867.62" cy="476.61" r="5.21"/><circle cx="867.62" cy="476.61" r="5.21"/><circle cx="867.62" cy="476.61" r="5.21"/><circle cx="867.62" cy="476.61" r="5.21"/><circle cx="890.38" cy="467.14" r="5.21"/><circle cx="890.38" cy="467.14" r="5.21"/><circle cx="890.38" cy="467.14" r="5.21"/><circle cx="890.38" cy="467.14" r="5.21"/><circle cx="901.76" cy="462.41" r="5.21"/><circle cx="913.14" cy="457.68" r="5.21"/><circle cx="913.14" cy="457.68" r="5.21"/><circle cx="913.14" cy="457.68" r="5.21"/><circle cx="913.14" cy="457.68" r="5.21"/><circle cx="913.14" cy="457.68" r="5.21"/><circle cx="913.14" cy="457.68" r="5.21"/><circle cx="913.14" cy="457.68" r="5.21"/><circle cx="913.14" cy="457.68" r="5.21"/><circle cx="935.89" cy="448.21" r="5.21"/><circle cx="935.89" cy="448.21" r="5.21"/><circle cx="947.27" cy="443.48" r="5.21"/><circle cx="958.65" cy="438.74" r="5.21"/><circle cx="958.65" cy="438.74" r="5.21"/><circle cx="958.65" cy="438.74" r="5.21"/><circle cx="958.65" cy="438.74" r="5.21"/><circle cx="958.65" cy="438.74" r="5.21"/><circle cx="958.65" cy="438.74" r="5.21"/><circle cx="958.65" cy="438.74" r="5.21"/><circle cx="958.65" cy="438.74" r="5.21"/><circle cx="981.41" cy="429.28" r="5.21"/><circle cx="981.41" cy="429.28" r="5.21"/><circle cx="981.41" cy="429.28" r="5.21"/><circle cx="981.41" cy="429.28" r="5.21"/><circle cx="981.41" cy="429.28" r="5.21"/><circle cx="992.79" cy="424.54" r="5.21"/><circle cx="1004.16" cy="419.81" r="5.21"/><circle cx="1004.16" cy="419.81" r="5.21"/><circle cx="1004.16" cy="419.81" r="5.21"/><circle cx="1026.92" cy="410.34" r="5.21"/><circle cx="1026.92" cy="410.34" r="5.21"/><circle cx="1038.30" cy="405.61" r="5.21"/><circle cx="1049.68" cy="400.88" r="5.21"/><circle cx="1049.68" cy="400.88" r="5.21"/><circle cx="1049.68" cy="400.88" r="5.21"/><circle cx="1049.68" cy="400.88" r="5.21"/><circle cx="1049.68" cy="400.88" r="5.21"/><circle cx="1061.06" cy="396.14" r="5.21"/><circle cx="1061.06" cy="396.14" r="5.21"/><circle cx="1072.44" cy="391.41" r="5.21"/><circle cx="1072.44" cy="391.41" r="5.21"/><circle cx="1072.44" cy="391.41" r="5.21"/><circle cx="1072.44" cy="391.41" r="5.21"/><circle cx="1072.44" cy="391.41" r="5.21"/><circle cx="1083.81" cy="386.68" r="5.21"/><circle cx="1095.19" cy="381.94" r="5.21"/><circle cx="1095.19" cy="381.94" r="5.21"/><circle cx="1095.19" cy="381.94" r="5.21"/><circle cx="1095.19" cy="381.94" r="5.21"/><circle cx="1095.19" cy="381.94" r="5.21"/><circle cx="1095.19" cy="381.94" r="5.21"/><circle cx="1106.57" cy="377.21" r="5.21"/><circle cx="1106.57" cy="377.21" r="5.21"/><circle cx="1106.57" cy="377.21" r="5.21"/><circle cx="1117.95" cy="372.48" r="5.21"/><circle cx="1117.95" cy="372.48" r="5.21"/><circle cx="1117.95" cy="372.48" r="5.21"/><circle cx="1117.95" cy="372.48" r="5.21"/><circle cx="1117.95" cy="372.48" r="5.21"/><circle cx="1129.33" cy="367.74" r="5.21"/><circle cx="1140.71" cy="363.01" r="5.21"/><circle cx="1140.71" cy="363.01" r="5.21"/><circle cx="1163.46" cy="353.54" r="5.21"/><circle cx="1163.46" cy="353.54" r="5.21"/><circle cx="1163.46" cy="353.54" r="5.21"/><circle cx="1163.46" cy="353.54" r="5.21"/><circle cx="1174.84" cy="348.81" r="5.21"/><circle cx="1174.84" cy="348.81" r="5.21"/><circle cx="1174.84" cy="348.81" r="5.21"/><circle cx="1186.22" cy="344.08" r="5.21"/><circle cx="1186.22" cy="344.08" r="5.21"/><circle cx="1197.60" cy="339.35" r="5.21"/><circle cx="1197.60" cy="339.35" r="5.21"/><circle cx="1208.98" cy="334.61" r="5.21"/><circle cx="1208.98" cy="334.61" r="5.21"/><circle cx="1220.35" cy="329.88" r="5.21"/><circle cx="1231.73" cy="325.15" r="5.21"/><circle cx="1231.73" cy="325.15" r="5.21"/><circle cx="1231.73" cy="325.15" r="5.21"/><circle cx="1231.73" cy="325.15" r="5.21"/><circle cx="1231.73" cy="325.15" r="5.21"/><circle cx="1231.73" cy="325.15" r="5.21"/><circle cx="1254.49" cy="315.68" r="5.21"/><circle cx="1254.49" cy="315.68" r="5.21"/><circle cx="1254.49" cy="315.68" r="5.21"/><circle cx="1277.25" cy="306.21" r="5.21"/><circle cx="1277.25" cy="306.21" r="5.21"/><circle cx="1277.25" cy="306.21" r="5.21"/><circle cx="1300.00" cy="296.75" r="5.21"/><circle cx="1300.00" cy="296.75" r="5.21"/><circle cx="1322.76" cy="287.28" r="5.21"/><circle cx="1322.76" cy="287.28" r="5.21"/><circle cx="1322.76" cy="287.28" r="5.21"/><circle cx="1322.76" cy="287.28" r="5.21"/><circle cx="1345.52" cy="277.81" r="5.21"/><circle cx="1345.52" cy="277.81" r="5.21"/><circle cx="1345.52" cy="277.81" r="5.21"/><circle cx="1368.27" cy="268.35" r="5.21"/><circle cx="1368.27" cy="268.35" r="5.21"/><circle cx="1368.27" cy="268.35" r="5.21"/><circle cx="1368.27" cy="268.35" r="5.21"/><circle cx="1391.03" cy="258.88" r="5.21"/><circle cx="1391.03" cy="258.88" r="5.21"/><circle cx="1391.03" cy="258.88" r="5.21"/><circle cx="1413.79" cy="249.41" r="5.21"/><circle cx="1413.79" cy="249.41" r="5.21"/><circle cx="1413.79" cy="249.41" r="5.21"/><circle cx="1413.79" cy="249.41" r="5.21"/><circle cx="1413.79" cy="249.41" r="5.21"/><circle cx="1436.54" cy="239.95" r="5.21"/><circle cx="1459.30" cy="230.48" r="5.21"/><circle cx="1459.30" cy="230.48" r="5.21"/><circle cx="1459.30" cy="230.48" r="5.21"/><circle cx="1459.30" cy="230.48" r="5.21"/><circle cx="1459.30" cy="230.48" r="5.21"/><circle cx="1482.06" cy="221.01" r="5.21"/><circle cx="1482.06" cy="221.01" r="5.21"/><circle cx="1482.06" cy="221.01" r="5.21"/><circle cx="1482.06" cy="221.01" r="5.21"/><circle cx="1482.06" cy="221.01" r="5.21"/><circle cx="1482.06" cy="221.01" r="5.21"/><circle cx="1504.81" cy="211.55" r="5.21"/><circle cx="1504.81" cy="211.55" r="5.21"/><circle cx="1527.57" cy="202.08" r="5.21"/><circle cx="1527.57" cy="202.08" r="5.21"/><circle cx="1527.57" cy="202.08" r="5.21"/><circle cx="1550.33" cy="192.61" r="5.21"/><circle cx="1550.33" cy="192.61" r="5.21"/><circle cx="1550.33" cy="192.61" r="5.21"/><circle cx="1550.33" cy="192.61" r="5.21"/><circle cx="1550.33" cy="192.61" r="5.21"/><circle cx="1573.08" cy="183.15" r="5.21"/><circle cx="1595.84" cy="173.68" r="5.21"/><circle cx="1595.84" cy="173.68" r="5.21"/><circle cx="1618.60" cy="164.22" r="5.21"/><circle cx="1618.60" cy="164.22" r="5.21"/><circle cx="1618.60" cy="164.22" r="5.21"/><circle cx="1664.11" cy="145.28" r="5.21"/><circle cx="1664.11" cy="145.28" r="5.21"/><circle cx="1686.87" cy="135.82" r="5.21"/><circle cx="1686.87" cy="135.82" r="5.21"/><circle cx="1709.62" cy="126.35" r="5.21"/><circle cx="1823.41" cy="79.02" r="5.21"/>
</g>
<circle cx="868.42" cy="476.28" r="15.17" fill="#0f0" stroke="#0f0" stroke-width="1.89"/>
</g>
<path d="M95.67 735.50H103.0M95.67 487.62H103.0M95.67 239.74H103.0M321.46 873.75V881.08M776.60 873.75V881.08M1231.73 873.75V881.08M1686.87 873.75V881.08" stroke="#333" stroke-width="2.85" fill="none"/>
<text x="89.80" y="743.90" font-size="23.47" fill="#4D4D4D" text-anchor="end">180</text>
<text x="89.80" y="496.02" font-size="23.47" fill="#4D4D4D" text-anchor="end">200</text>
<text x="89.80" y="248.14" font-size="23.47" fill="#4D4D4D" text-anchor="end">220</text>
<text x="321.96" y="903.75" font-size="23.47" fill="#4D4D4D" text-anchor="middle">3000</text>
<text x="777.10" y="903.75" font-size="23.47" fill="#4D4D4D" text-anchor="middle">4000</text>
<text x="1232.23" y="903.75" font-size="23.47" fill="#4D4D4D" text-anchor="middle">5000</text>
<text x="1687.37" y="903.75" font-size="23.47" fill="#4D4D4D" text-anchor="middle">6000</text>
<text x="1004.16" y="938" font-size="29.33" fill="#000" text-anchor="middle">body_mass_g</text>
<text transform="translate(36.5,445.21) rotate(-90)" font-size="29.33" fill="#000" text-anchor="middle">flipper_length_mm</text>
</svg>
</body></html>
